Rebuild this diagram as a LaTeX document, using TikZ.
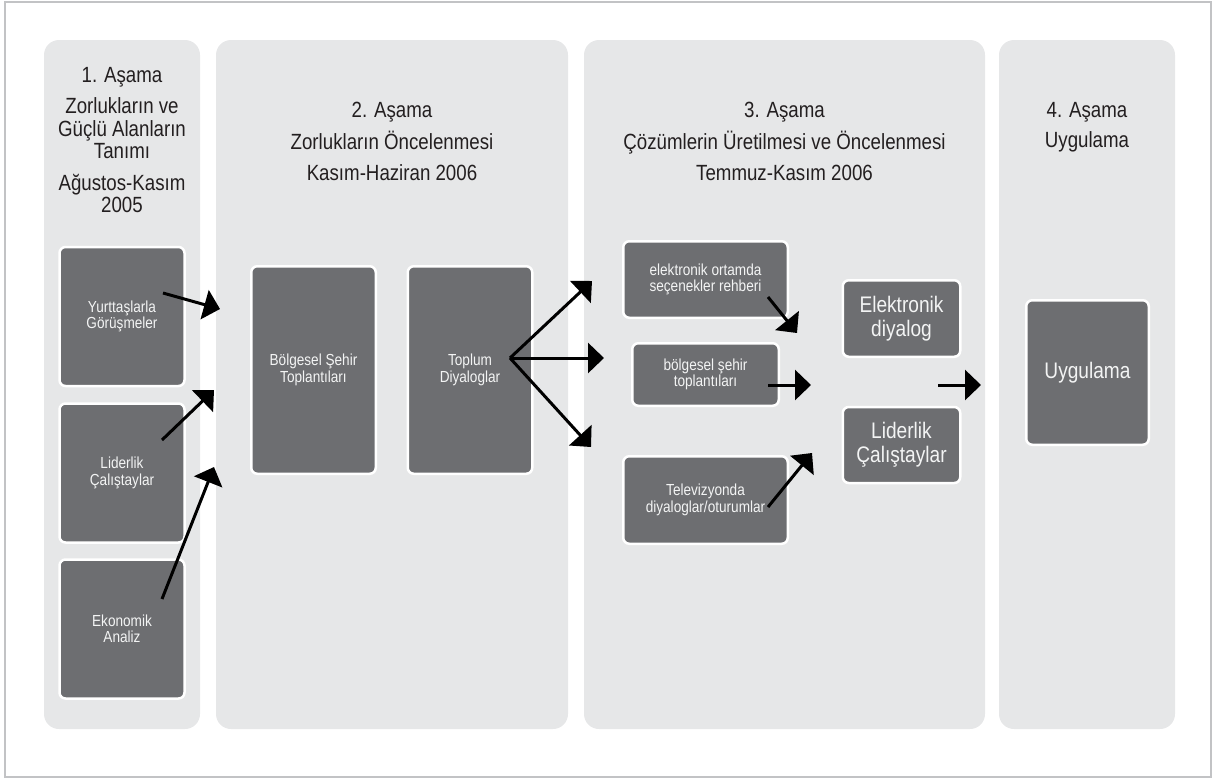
\documentclass[tikz,border=0pt]{standalone}
\usepackage{fontspec}
\setmainfont[FakeStretch=0.85]{Liberation Sans}
\usetikzlibrary{arrows.meta}

\definecolor{panelgray}{HTML}{E6E7E8}
\definecolor{boxgray}{HTML}{6D6E71}
\definecolor{ink}{HTML}{231F20}
\definecolor{framegray}{HTML}{C2C3C5}

\begin{document}
\begin{tikzpicture}[x=1pt, y=-1pt,
  panel/.style = {fill=panelgray, rounded corners=15pt},
  title/.style = {anchor=north, inner sep=0pt, align=center, text=ink, font=\fontsize{22}{22.5}\selectfont},
  box/.style = {draw=white, line width=2.5pt, fill=boxgray, rounded corners=6pt, align=center, inner sep=2pt, text=white!92!boxgray, font=\fontsize{16}{16.5}\selectfont},
  bigbox/.style = {box, font=\fontsize{22.5}{24}\selectfont},
  flow/.style = {line width=3pt, ->, >={Triangle[length=16pt, width=30pt]}}]
\useasboundingbox (0,0) rectangle (1215,780);
\draw [framegray, line width=1.5pt] (5,2) rectangle (1211,777);

% the four phases
\fill [panel] (44,40) rectangle (200,729);
\fill [panel] (216,40) rectangle (568,729);
\fill [panel] (584,40) rectangle (985,729);
\fill [panel] (999,40) rectangle (1175,729);

\node [title] (t1) at (122,67) {1. Aşama\\[9pt]Zorlukların ve\\Güçlü Alanların\\Tanımı\\[9pt]Ağustos-Kasım\\2005};
\node [title] (t2) at (392,102) {2. Aşama\\[8pt]Zorlukların Öncelenmesi\\[8pt]Kasım-Haziran 2006};
\node [title] (t3) at (784.5,102) {3. Aşama\\[8pt]Çözümlerin Üretilmesi ve Öncelenmesi\\[8pt]Temmuz-Kasım 2006};
\node [title] (t4) at (1087,102) {4. Aşama\\[8pt]Uygulama};

% boxes
\node [box, minimum width=125pt, minimum height=139pt] (yg) at (122,316.5) {Yurttaşlarla\\Görüşmeler};
\node [box, minimum width=125pt, minimum height=139pt] (lc1) at (122,473) {Liderlik\\Çalıştaylar};
\node [box, minimum width=125pt, minimum height=139pt] (ea) at (122,629) {Ekonomik\\Analiz};

\node [box, minimum width=124.5pt, minimum height=207.5pt] (bs) at (313.5,370) {Bölgesel Şehir\\Toplantıları};
\node [box, minimum width=124.5pt, minimum height=207.5pt] (td) at (470,370) {Toplum\\Diyaloglar};

\node [box, minimum width=164.5pt, minimum height=76.5pt] (eo) at (705.5,279.5) {elektronik ortamda\\seçenekler rehberi};
\node [box, minimum width=146.5pt, minimum height=62.5pt] (st) at (705.5,374.5) {bölgesel şehir\\toplantıları};
\node [box, minimum width=164.5pt, minimum height=87.5pt] (tv) at (705.5,500) {Televizyonda\\diyaloglar/oturumlar};

\node [bigbox, minimum width=117.5pt, minimum height=76.5pt] (ed) at (901.5,318.5) {Elektronik\\diyalog};
\node [bigbox, minimum width=117.5pt, minimum height=76pt] (lc2) at (901.5,445) {Liderlik\\Çalıştaylar};

\node [bigbox, minimum width=122.5pt, minimum height=144.5pt] (ug) at (1087.5,372.5) {Uygulama};

% arrow ends
\coordinate (a1) at (163,293);   \coordinate (a1t) at (220,309);
\coordinate (a2) at (162,440);   \coordinate (a2t) at (214,390);
\coordinate (a3) at (162,599);   \coordinate (a3t) at (214,467);
\coordinate (a4) at (510,358);
\coordinate (a4u) at (592,281);  \coordinate (a4m) at (604,358);  \coordinate (a4d) at (591,447);
\coordinate (a5) at (768,297);   \coordinate (a5t) at (797,333);
\coordinate (a6) at (768,385);   \coordinate (a6t) at (811,385);
\coordinate (a7) at (768,507);   \coordinate (a7t) at (812,453);
\coordinate (a8) at (938,385);   \coordinate (a8t) at (981,385);

\draw [flow] (a1) -- (a1t);
\draw [flow] (a2) -- (a2t);
\draw [flow] (a3) -- (a3t);
\draw [flow] (a4) -- (a4u);
\draw [flow] (a4) -- (a4m);
\draw [flow] (a4) -- (a4d);
\draw [flow] (a5) -- (a5t);
\draw [flow] (a6) -- (a6t);
\draw [flow] (a7) -- (a7t);
\draw [flow] (a8) -- (a8t);
\end{tikzpicture}
\end{document}
